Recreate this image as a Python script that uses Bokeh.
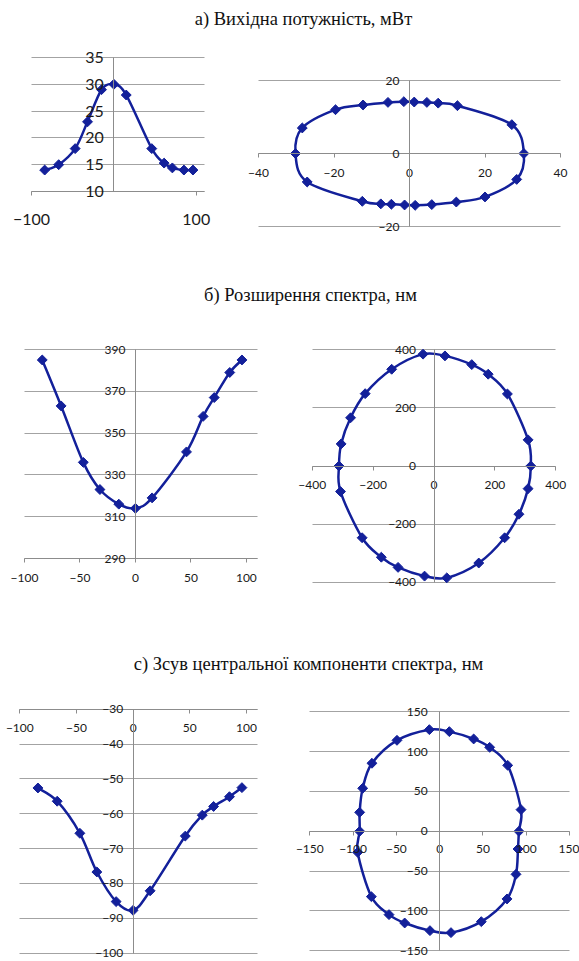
import numpy as np
from bokeh.plotting import figure
from bokeh.layouts import column, row
from bokeh.models import Range1d, FixedTicker
from bokeh.core.properties import value
from bokeh.embed import file_html
from bokeh.resources import INLINE

# ---------------- data ----------------
titles = ["а) Вихідна потужність, мВт",
          "б) Розширення спектра, нм",
          "с) Зсув центральної компоненти спектра, нм"]

angle_deg = [-84, -67, -47, -32, -15, 0, 15, 46, 61, 71, 85, 96]
power_mw = [14, 15, 18, 23, 29, 30, 28, 18, 15.3, 14.4, 14, 14]
broadening_nm = [385, 363, 336, 323, 316, 314, 319, 341, 358, 367, 379, 385]
shift_nm = [-52.6, -56.4, -65.6, -76.7, -85.2, -87.7, -82.1, -66.4, -60.4, -57.9, -55.1, -52.5]

power_px = [-30.2, -28.4, -19.6, -12.3, -5.7, -1.5, 1.25, 4.6, 7.6, 12.7, 27.1, 30.3,
            28.4, 20.0, 12.4, 5.9, 1.5, -1.3, -4.8, -7.6, -12.5, -27.1]
power_py = [0.0, 7.0, 12.0, 13.3, 14.0, 14.2, 14.1, 14.0, 13.8, 13.1, 7.9, 0.0,
            -7.1, -11.9, -13.3, -14.0, -14.2, -14.1, -13.9, -13.8, -13.1, -7.8]

broad_px = [-36, 36, 124, 178, 241, 309, 318, 309, 279, 232, 147, 42,
            -31, -118, -173, -236, -307, -312, -305, -274, -226, -139]
broad_py = [385, 379, 349, 316, 248, 90, 0, -78, -166, -247, -334, -385,
            -379, -349, -314, -247, -88, 0, 76, 166, 249, 333]

shift_px = [-11.9, 11.2, 39.3, 57.8, 78.6, 94.0, 91.6, 90.5, 88.2, 77.8, 48.1, 13.1,
            -11.2, -40.4, -58.5, -78.9, -94.7, -92.4, -92.4, -88.9, -78.2, -49.3]
shift_py = [127.6, 125.1, 115.9, 105.4, 82.8, 27.2, 0.0, -22.2, -54.0, -84.9, -113.4, -127.2,
            -124.7, -115.1, -104.6, -82.0, -26.4, 0.0, 23.8, 54.0, 85.4, 114.2]

ticks_p1_x = [-100, 100]
ticks_p1_y = [10, 15, 20, 25, 30, 35]
ticks_p2_x = [-40, -20, 0, 20, 40]
ticks_p2_y = [-20, 0, 20]
ticks_p3_x = [-100, -50, 0, 50, 100]
ticks_p3_y = [290, 310, 330, 350, 370, 390]
ticks_p4_x = [-400, -200, 0, 200, 400]
ticks_p4_y = [-400, -200, 0, 200, 400]
ticks_p5_x = [-100, -50, 0, 50, 100]
ticks_p5_y = [-100, -90, -80, -70, -60, -50, -40, -30]
ticks_p6_x = [-150, -100, -50, 0, 50, 100, 150]
ticks_p6_y = [-150, -100, -50, 0, 50, 100, 150]

BLUE = "#13209a"
GRID = "#a3a3a3"
AXIS = "#8c8c8c"
TICKFONT = "Lato"
TITLEFONT = "Liberation Serif"


def smooth(xs, ys, closed):
    x = np.asarray(xs, float)
    y = np.asarray(ys, float)
    n = len(x)
    if closed:
        i1 = np.arange(n)
        i0 = (i1 - 1) % n
        i2 = (i1 + 1) % n
        i3 = (i1 + 2) % n
    else:
        i1 = np.arange(n - 1)
        i0 = np.maximum(i1 - 1, 0)
        i2 = i1 + 1
        i3 = np.minimum(i1 + 2, n - 1)
    t = 1.0 / 6.0
    return dict(x0=x[i1], y0=y[i1], x1=x[i2], y1=y[i2],
                cx0=x[i1] + (x[i2] - x[i0]) * t, cy0=y[i1] + (y[i2] - y[i0]) * t,
                cx1=x[i2] - (x[i3] - x[i1]) * t, cy1=y[i2] - (y[i3] - y[i1]) * t)


def outer(lo, hi, a, b, size):
    # data interval [lo, hi] occupies pixels [a, b] of a frame that is `size` px long
    k = (hi - lo) / (b - a)
    return lo - a * k, hi + (size - b) * k


def panel(w, h, xr, yr, box, xt, yt, fs, xfix, yfix, xso, yso, xs, ys, closed):
    L, R, T, B = box
    x0, x1 = outer(xr[0], xr[1], L, R, w)
    ya, yb = outer(-yr[1], -yr[0], T, B, h)
    p = figure(width=w, height=h, x_range=Range1d(x0, x1), y_range=Range1d(-yb, -ya),
               output_backend="svg", toolbar_location=None, min_border=0)
    p.outline_line_color = None
    p.background_fill_color = "white"
    p.border_fill_color = "white"
    p.xgrid.visible = False
    p.ygrid.ticker = FixedTicker(ticks=yt)
    p.ygrid.grid_line_color = GRID
    p.ygrid.grid_line_width = 1
    p.ygrid.bounds = yr
    try:
        p.ygrid.cross_bounds = xr
    except Exception:
        p.ygrid.visible = False
        p.segment(x0=[xr[0]] * len(yt), x1=[xr[1]] * len(yt), y0=yt, y1=yt,
                  line_color=GRID, line_width=1)
    p.xaxis.ticker = FixedTicker(ticks=xt)
    p.yaxis.ticker = FixedTicker(ticks=yt)
    p.xaxis.fixed_location = xfix
    p.yaxis.fixed_location = yfix
    p.xaxis.bounds = xr
    p.yaxis.bounds = yr
    for ax in (p.xaxis, p.yaxis):
        ax.axis_line_color = AXIS
        ax.axis_line_width = 1
        ax.major_tick_line_color = AXIS
        ax.minor_tick_line_color = None
        ax.major_label_text_font = TICKFONT
        ax.major_label_text_font_size = fs
        ax.major_label_text_color = "#1a1a1a"
    p.xaxis.major_tick_out = 4
    p.xaxis.major_tick_in = 0
    p.yaxis.major_tick_out = 0
    p.yaxis.major_tick_in = 0
    p.xaxis.major_label_standoff = xso
    p.yaxis.major_label_standoff = yso
    bz = smooth(xs, ys, closed)
    p.bezier(x0="x0", y0="y0", x1="x1", y1="y1", cx0="cx0", cy0="cy0", cx1="cx1", cy1="cy1",
             source=bz, line_color=BLUE, line_width=2.5)
    p.scatter(xs, ys, marker="square", angle=np.pi / 4, size=7,
              fill_color=BLUE, line_color=BLUE)
    return p


def title_fig(h, text, xc, yc):
    t = figure(width=579, height=h, x_range=Range1d(0, 579), y_range=Range1d(h, 0),
               output_backend="svg", toolbar_location=None,
               min_border=0, x_axis_location=None, y_axis_location=None)
    t.outline_line_color = None
    t.xgrid.visible = False
    t.ygrid.visible = False
    t.text(x=[xc], y=[yc], text=[text], text_font=value(TITLEFONT),
           text_font_size="18.5px", text_align="center", text_baseline="middle",
           text_color="#111111")
    return t


p1 = panel(230, 235, (-100, 110), (10, 35), (31, 204, 22, 156), ticks_p1_x, ticks_p1_y, "16px",
           10, 0, 18, 10, angle_deg, power_mw, False)
p2 = panel(349, 235, (-40, 40), (-20, 20), (28, 330, 45, 191), ticks_p2_x, ticks_p2_y, "12px",
           0, 0, 11, 10, power_px, power_py, True)
p3 = panel(280, 322, (-100, 110), (290, 390), (24, 257, 31, 240), ticks_p3_x, ticks_p3_y, "12px",
           290, 0, 11, 10, angle_deg, broadening_nm, False)
p4 = panel(299, 322, (-400, 400), (-400, 400), (31.7, 275.3, 31.3, 263.7), ticks_p4_x, ticks_p4_y,
           "12px", 0, 0, 11, 18, broad_px, broad_py, True)
p5 = panel(280, 279, (-100, 110), (-100, -30), (19.3, 257.3, 26.7, 270.7), ticks_p5_x, ticks_p5_y,
           "12px", -30, 0, 11, 10, angle_deg, shift_nm, False)
p6 = panel(299, 279, (-150, 150), (-150, 150), (29.3, 289, 29.3, 268.3), ticks_p6_x, ticks_p6_y,
           "12px", 0, 0, 10, 12, shift_px, shift_py, True)

ta = title_fig(35, titles[0], 303, 18)
tb = title_fig(48, titles[1], 310, 24)
tc = title_fig(42, titles[2], 308, 23)

layout = column(ta, row(p1, p2), tb, row(p3, p4), tc, row(p5, p6))

open("out.html", "w").write(file_html(layout, INLINE))
